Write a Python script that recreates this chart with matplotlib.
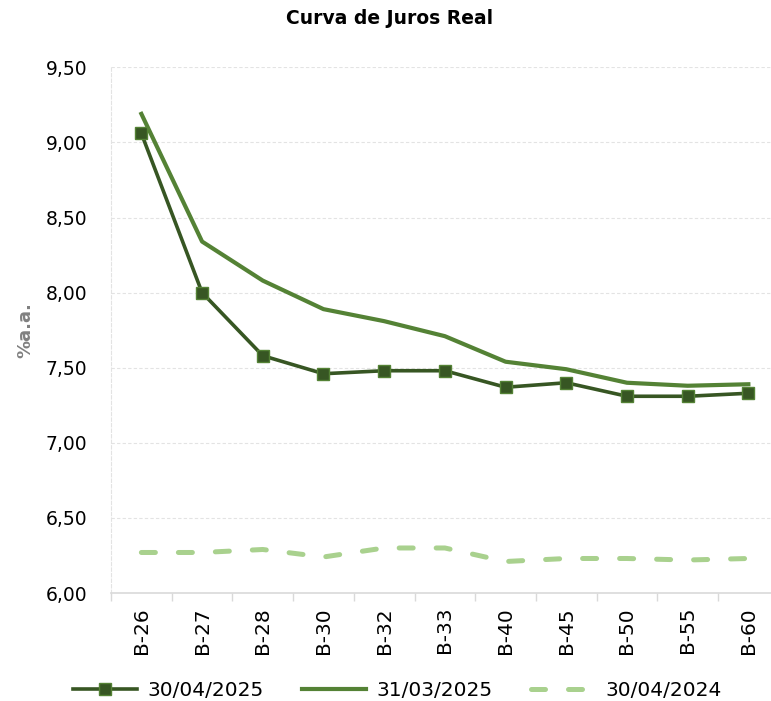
import numpy as np
import matplotlib
matplotlib.use("Agg")
from matplotlib import pyplot as plt
from matplotlib.ticker import FuncFormatter, FixedLocator

plt.rcParams['font.family'] = ['DejaVu Sans']

# vértices da curva (NTN-B)
vertices = ["B-26", "B-27", "B-28", "B-30", "B-32", "B-33", "B-40", "B-45", "B-50", "B-55", "B-60"]
abr_2025 = [9.06, 8.00, 7.58, 7.46, 7.48, 7.48, 7.37, 7.40, 7.31, 7.31, 7.33]
mar_2025 = [9.19, 8.34, 8.08, 7.89, 7.81, 7.71, 7.54, 7.49, 7.40, 7.38, 7.39]
abr_2024 = [6.27, 6.27, 6.29, 6.24, 6.30, 6.30, 6.21, 6.23, 6.23, 6.22, 6.23]
y_ticks = [6.0, 6.5, 7.0, 7.5, 8.0, 8.5, 9.0, 9.5]

c_escuro = "#375623"
c_medio = "#548235"
c_claro = "#A9D18E"
c_grade = "#E3E3E3"
c_eixo = "#D9D9D9"

fig = plt.figure(figsize=(7.71, 7.01), dpi=100)
ax = fig.add_axes([0.144, 0.154, 0.866, 0.750])

x = np.arange(len(vertices))

ax.plot(x, abr_2024, color=c_claro, lw=3.6, dashes=(2.8, 4.6),
        dash_capstyle="round", label="30/04/2024", zorder=2)
ax.plot(x, mar_2025, color=c_medio, lw=3.0, label="31/03/2025", zorder=3)
ax.plot(x, abr_2025, color=c_escuro, lw=2.6, marker="s", markersize=9,
        markerfacecolor=c_escuro, markeredgecolor=c_medio, markeredgewidth=1.0,
        label="30/04/2025", zorder=4)

ax.set_xlim(-0.5, len(vertices) - 0.5)
ax.set_ylim(6.0, 9.5)

ax.set_yticks(y_ticks)
ax.yaxis.set_major_formatter(FuncFormatter(lambda v, p: f"{v:.2f}".replace(".", ",")))
ax.tick_params(axis="y", length=0, pad=17, labelsize=13.5, labelcolor="#000000")

ax.set_xticks(x)
ax.set_xticklabels(vertices, rotation=90)
ax.tick_params(axis="x", which="major", length=0, pad=10, labelsize=14.5)
ax.xaxis.set_minor_locator(FixedLocator(np.arange(-0.5, len(vertices), 1.0)))
ax.tick_params(axis="x", which="minor", length=6, width=1.0, color=c_eixo, direction="out")

ax.grid(axis="y", color=c_grade, lw=0.8, ls=(0, (3, 2)), zorder=0)
for s in ["top", "right"]:
    ax.spines[s].set_visible(False)
ax.spines["bottom"].set_color(c_eixo)
ax.spines["bottom"].set_linewidth(1.2)
ax.spines["left"].set_color(c_grade)
ax.spines["left"].set_linewidth(0.8)
ax.spines["left"].set_linestyle((0, (3, 2)))

ax.set_ylabel("%a.a.", color="#808080", fontsize=13, fontweight="bold", labelpad=8)
fig.text(0.505, 0.973, "Curva de Juros Real", ha="center", va="center",
         fontsize=13.5, fontweight="bold")

handles, labels = ax.get_legend_handles_labels()
order = [2, 1, 0]
fig.legend([handles[i] for i in order], [labels[i] for i in order],
           loc="center", bbox_to_anchor=(0.515, 0.015), ncol=3, frameon=False,
           fontsize=14.5, handlelength=3.2, columnspacing=1.9, handletextpad=0.5)

fig.savefig("out.png", dpi=100)
